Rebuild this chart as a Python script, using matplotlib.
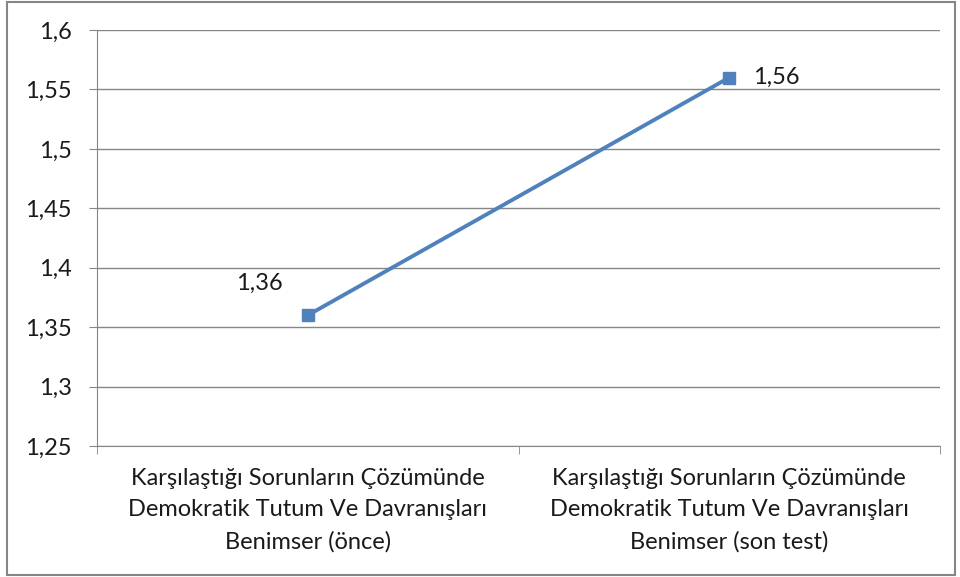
import matplotlib.pyplot as plt
from matplotlib.patches import Rectangle
from matplotlib.ticker import FixedLocator

plt.rcParams['font.family'] = ['Lato', 'DejaVu Sans']

kategoriler = [
    "Karşılaştığı Sorunların Çözümünde\nDemokratik Tutum Ve Davranışları\nBenimser (önce)",
    "Karşılaştığı Sorunların Çözümünde\nDemokratik Tutum Ve Davranışları\nBenimser (son test)",
]
degerler = [1.36, 1.56]
y_ticks = [1.25, 1.3, 1.35, 1.4, 1.45, 1.5, 1.55, 1.6]

fig = plt.figure(figsize=(9.6, 5.77), dpi=100)
ax = fig.add_axes([97 / 960, 1 - 446 / 577, 843 / 960, 416 / 577])

gri = "#868686"
yazi = "#1a1a1a"
x = list(range(len(degerler)))
ax.plot(x, degerler, color="#4F81BD", linewidth=2.8, marker="s",
        markersize=9, zorder=3)

# veri etiketleri
ax.annotate("1,36", (x[0], degerler[0]), xytext=(-35, 23), textcoords="offset points",
            ha="center", va="center", fontsize=17, color=yazi)
ax.annotate("1,56", (x[1], degerler[1]), xytext=(17, 0), textcoords="offset points",
            ha="left", va="center", fontsize=17, color=yazi)

ax.set_xlim(-0.5, 1.5)
ax.set_ylim(1.25, 1.6)
ax.set_yticks(y_ticks)
ax.set_yticklabels([("%g" % v).replace(".", ",") for v in y_ticks])
ax.set_xticks(x)
ax.set_xticklabels(kategoriler, fontsize=17, color=yazi, linespacing=1.6)
ax.xaxis.set_minor_locator(FixedLocator([-0.5, 0.5, 1.5]))
ax.tick_params(axis="x", which="major", length=0, pad=16)
ax.tick_params(axis="x", which="minor", length=6, color=gri)
ax.tick_params(axis="y", length=6, color=gri, labelsize=17, labelcolor=yazi, pad=12)

ax.grid(axis="y", color=gri, linewidth=1)
ax.set_axisbelow(True)
for s in ["top", "right"]:
    ax.spines[s].set_visible(False)
ax.spines["left"].set_color(gri)
ax.spines["bottom"].set_color(gri)

fig.patches.append(Rectangle((7 / 960, 2 / 577), 948 / 960, 573 / 577, transform=fig.transFigure,
                             fill=False, edgecolor=gri, linewidth=1.5))

fig.savefig("out.png", dpi=100)
